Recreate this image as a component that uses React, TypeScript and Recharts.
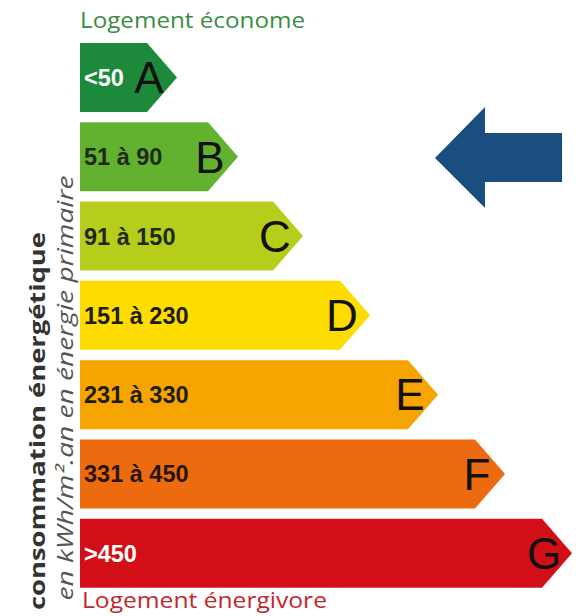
import React from "react"
import { BarChart, Bar, XAxis, YAxis, Cell } from "recharts"

// energy classes, top (économe) to bottom (énergivore)
const classes = ["A", "B", "C", "D", "E", "F", "G"]
const ranges = ["<50", "51 à 90", "91 à 150", "151 à 230", "231 à 330", "331 à 450", ">450"]
// bar lengths (px from the left edge of the bars)
const lengths = [97, 158, 223, 290, 358, 425, 492]
const colors = ["#1c8a3a", "#62b22f", "#b7cd1b", "#fedc00", "#f6a400", "#eb6b0e", "#d20f17"]
const rangeInk = ["#ffffff", "#1d2a14", "#1d2a14", "#1d1d10", "#1d1d10", "#2a1408", "#ffffff"]

const data = classes.map((c, i) => ({ cls: c, range: ranges[i], len: lengths[i], ink: rangeInk[i] }))

const W = 579
const H = 616
const TIP = 30

if (typeof document !== "undefined") document.body.style.margin = "0"

function ArrowBar(props: any) {
  const { x, y, width, height, fill, payload } = props
  const end = x + width - TIP
  const mid = y + height / 2
  const d = `M${x},${y} L${end},${y} L${x + width},${mid} L${end},${y + height} L${x},${y + height} Z`
  return (
    <g>
      <path d={d} fill={fill} />
      <text
        x={x + 4}
        y={mid}
        dy="0.36em"
        fill={payload.ink}
        fontFamily="Liberation Sans, Arial, sans-serif"
        fontWeight="bold"
        fontSize={23.5}
      >
        {payload.range}
      </text>
      <text
        x={end + 2}
        y={mid}
        dy="0.36em"
        textAnchor="middle"
        fill="#111"
        fontFamily="Liberation Sans, Arial, sans-serif"
        fontSize={44}
      >
        {payload.cls}
      </text>
    </g>
  )
}

export default function App() {
  return (
    <div style={{ position: "relative", width: W, height: H, background: "#fff" }}>
      <BarChart
        width={W}
        height={H}
        data={data}
        layout="vertical"
        margin={{ top: 38, right: 0, bottom: 23, left: 80 }}
        barSize={69}
      >
        <XAxis type="number" domain={[0, 499]} hide />
        <YAxis type="category" dataKey="cls" hide />
        <Bar dataKey="len" shape={ArrowBar} isAnimationActive={false}>
          {data.map((d, i) => (
            <Cell key={i} fill={colors[i]} />
          ))}
        </Bar>
      </BarChart>
      <svg
        width={W}
        height={H}
        style={{ position: "absolute", left: 0, top: 0, pointerEvents: "none" }}
      >
        <text x={80} y={28} fill="#3a8c3f" fontFamily="Open Sans, sans-serif" fontSize={21} textLength={225} lengthAdjust="spacingAndGlyphs">
          Logement économe
        </text>
        <text x={82} y={608} fill="#c1272d" fontFamily="Open Sans, sans-serif" fontSize={22} textLength={245} lengthAdjust="spacingAndGlyphs">
          Logement énergivore
        </text>
        <text
          transform="translate(45,421) rotate(-90)"
          textAnchor="middle"
          fill="#333"
          fontFamily="Open Sans, sans-serif"
          fontWeight="bold"
          fontSize={22}
          textLength={378}
          lengthAdjust="spacingAndGlyphs"
        >
          consommation énergétique
        </text>
        <text
          transform="translate(73,388) rotate(-90)"
          textAnchor="middle"
          fill="#555"
          fontFamily="Open Sans, sans-serif"
          fontStyle="italic"
          fontSize={21}
          textLength={425}
          lengthAdjust="spacingAndGlyphs"
        >
          en kWh/m².an en énergie primaire
        </text>
        <polygon
          points="435,158 485,107 485,133 562,133 562,182 485,182 485,208"
          fill="#1b4e80"
        />
      </svg>
    </div>
  )
}
